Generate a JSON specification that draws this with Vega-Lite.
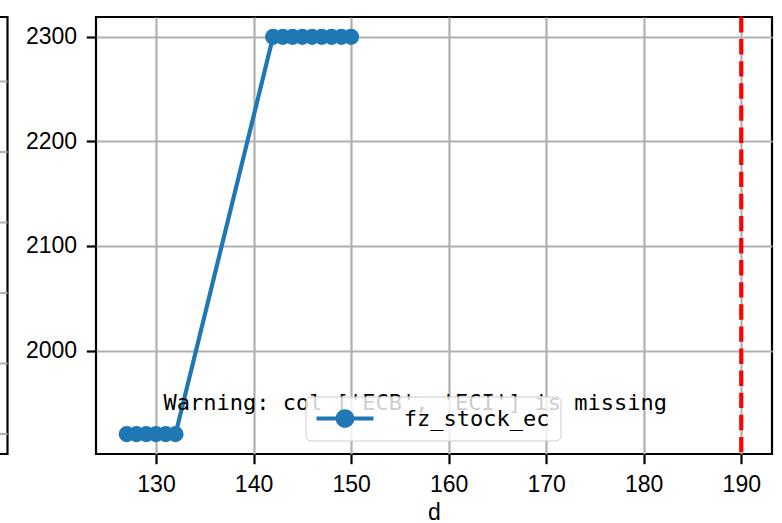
{
  "$schema": "https://vega.github.io/schema/vega-lite/v6.json",
  "padding": {"left": -62.5, "top": 13, "right": 0, "bottom": 0},
  "bounds": "flush",
  "spacing": 88.5,
  "config": {
    "view": {"stroke": "black", "strokeWidth": 2.2},
    "font": "Liberation Sans",
    "axis": {
      "domain": false,
      "gridColor": "#b0b0b0",
      "gridWidth": 2.2,
      "gridOpacity": 1,
      "tickColor": "black",
      "tickWidth": 2.2,
      "tickSize": 9.7,
      "labelFont": "Liberation Sans",
      "labelFontSize": 23,
      "labelColor": "black",
      "labelPadding": 9.7,
      "labelFlush": false,
      "titleFont": "Liberation Sans",
      "titleFontSize": 23,
      "titleFontWeight": "normal",
      "titleColor": "black",
      "titlePadding": 5.5
    }
  },
  "hconcat": [
    {
      "width": 67,
      "height": 437,
      "data": {"values": [{"level": 0}, {"level": 1}, {"level": 2}, {"level": 3}, {"level": 4}, {"level": 5}]},
      "mark": {"type": "rule", "color": "#b0b0b0", "strokeWidth": 2.2},
      "encoding": {
        "y": {"field": "level", "type": "quantitative", "scale": {"domain": [-0.284, 5.915], "nice": false, "zero": false}, "axis": null}
      }
    },
    {
      "width": 676,
      "height": 437,
      "layer": [
        {
          "data": {"name": "series_data", "values": [
            {"d": 127, "value": 1920, "series": "fz_stock_ec"},
            {"d": 128, "value": 1920, "series": "fz_stock_ec"},
            {"d": 129, "value": 1920, "series": "fz_stock_ec"},
            {"d": 130, "value": 1920, "series": "fz_stock_ec"},
            {"d": 131, "value": 1920, "series": "fz_stock_ec"},
            {"d": 132, "value": 1920, "series": "fz_stock_ec"},
            {"d": 142, "value": 2300, "series": "fz_stock_ec"},
            {"d": 143, "value": 2300, "series": "fz_stock_ec"},
            {"d": 144, "value": 2300, "series": "fz_stock_ec"},
            {"d": 145, "value": 2300, "series": "fz_stock_ec"},
            {"d": 146, "value": 2300, "series": "fz_stock_ec"},
            {"d": 147, "value": 2300, "series": "fz_stock_ec"},
            {"d": 148, "value": 2300, "series": "fz_stock_ec"},
            {"d": 149, "value": 2300, "series": "fz_stock_ec"},
            {"d": 150, "value": 2300, "series": "fz_stock_ec"}
          ]},
          "layer": [
            {
              "mark": {"type": "line", "color": "#1f77b4", "strokeWidth": 4.2},
              "encoding": {
                "x": {"field": "d", "type": "quantitative", "scale": {"domain": [123.85, 193.15], "nice": false, "zero": false},
                  "axis": {"values": [130, 140, 150, 160, 170, 180, 190], "title": "d", "format": "d"}},
                "y": {"field": "value", "type": "quantitative", "scale": {"domain": [1901, 2319], "nice": false, "zero": false},
                  "axis": {"values": [2000, 2100, 2200, 2300], "title": null, "format": "d"}}
              }
            },
            {
              "mark": {"type": "point", "filled": true, "size": 260, "opacity": 1},
              "encoding": {
                "x": {"field": "d", "type": "quantitative"},
                "y": {"field": "value", "type": "quantitative"},
                "color": {
                  "field": "series",
                  "type": "nominal",
                  "scale": {"range": ["#1f77b4"]},
                  "legend": {
                    "title": null,
                    "orient": "none",
                    "legendX": 365,
                    "legendY": 379.5,
                    "symbolType": "M-3.35,-0.247H3.35V0.247H-3.35Z M1.1,0A1.1,1.1,0,1,1,-1.1,0A1.1,1.1,0,1,1,1.1,0Z",
                    "symbolSize": 289,
                    "symbolStrokeWidth": 0,
                    "symbolOffset": 17.5,
                    "labelOffset": 47.8,
                    "labelFont": "DejaVu Sans Mono",
                    "labelFontSize": 22,
                    "labelColor": "black",
                    "padding": 11,
                    "fillColor": "rgba(255,255,255,0.8)",
                    "strokeColor": "#cccccc",
                    "cornerRadius": 5,
                    "encode": {
                      "legend": {"update": {"strokeWidth": {"value": 2}}},
                      "symbols": {"update": {
                        "shape": {"value": "M-3.35,-0.247H3.35V0.247H-3.35Z M1.1,0A1.1,1.1,0,1,1,-1.1,0A1.1,1.1,0,1,1,1.1,0Z"},
                        "fill": {"value": "#1f77b4"}, "fillOpacity": {"value": 1}, "opacity": {"value": 1}}}
                    }
                  }
                }
              }
            }
          ]
        },
        {
          "data": {"values": [{"d": 190}]},
          "mark": {"type": "rule", "color": "#ff0000", "strokeWidth": 4.2, "strokeDash": [15.4, 6.7]},
          "encoding": {"x": {"field": "d", "type": "quantitative"}}
        },
        {
          "data": {"values": [{"d": 130.78, "value": 1942.8, "label": "Warning: col ['ECB', 'ECI'] is missing"}]},
          "mark": {"type": "text", "align": "left", "baseline": "alphabetic", "font": "DejaVu Sans Mono", "fontSize": 22, "color": "black"},
          "encoding": {
            "x": {"field": "d", "type": "quantitative"},
            "y": {"field": "value", "type": "quantitative"},
            "text": {"field": "label"}
          }
        }
      ]
    }
  ]
}
